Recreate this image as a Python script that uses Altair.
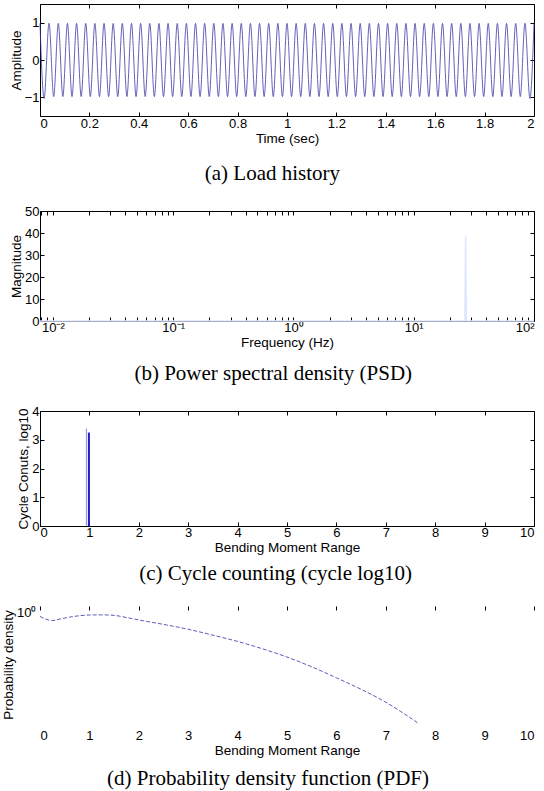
import altair as alt
import pandas as pd

# ---------------- (a) Load history: peak / trough times
peak_t = [0.0000, 0.0370, 0.0741, 0.1111, 0.1481, 0.1852, 0.2222, 0.2593, 0.2963, 0.3333,
          0.3704, 0.4074, 0.4444, 0.4815, 0.5185, 0.5556, 0.5926, 0.6296, 0.6667, 0.7037,
          0.7407, 0.7778, 0.8148, 0.8519, 0.8889, 0.9259, 0.9630, 1.0000, 1.0370, 1.0741,
          1.1111, 1.1481, 1.1852, 1.2222, 1.2593, 1.2963, 1.3333, 1.3704, 1.4074, 1.4444,
          1.4815, 1.5185, 1.5556, 1.5926, 1.6296, 1.6667, 1.7037, 1.7407, 1.7778, 1.8148,
          1.8519, 1.8889, 1.9259, 1.9630, 2.0000]
trough_t = [0.0185, 0.0556, 0.0926, 0.1296, 0.1667, 0.2037, 0.2407, 0.2778, 0.3148, 0.3519,
            0.3889, 0.4259, 0.4630, 0.5000, 0.5370, 0.5741, 0.6111, 0.6481, 0.6852, 0.7222,
            0.7593, 0.7963, 0.8333, 0.8704, 0.9074, 0.9444, 0.9815, 1.0185, 1.0556, 1.0926,
            1.1296, 1.1667, 1.2037, 1.2407, 1.2778, 1.3148, 1.3519, 1.3889, 1.4259, 1.4630,
            1.5000, 1.5370, 1.5741, 1.6111, 1.6481, 1.6852, 1.7222, 1.7593, 1.7963, 1.8333,
            1.8704, 1.9074, 1.9444, 1.9815]
PEAK_AMP = 0.98
TROUGH_AMP = -0.98
time_ticks = [0, 0.2, 0.4, 0.6, 0.8, 1.0, 1.2, 1.4, 1.6, 1.8, 2.0]
amp_ticks = [-1, 0, 1]

# ---------------- (b) PSD
psd_freq = [0.0078125, 26.6, 27.0, 27.4, 100.0]
psd_mag = [0.0, 0.0, 38.5, 0.0, 0.0]
freq_ticks = [0.008, 0.009,
              0.01, 0.02, 0.03, 0.04, 0.05, 0.06, 0.07, 0.08, 0.09,
              0.1, 0.2, 0.3, 0.4, 0.5, 0.6, 0.7, 0.8, 0.9,
              1, 2, 3, 4, 5, 6, 7, 8, 9,
              10, 20, 30, 40, 50, 60, 70, 80, 90, 100]
mag_ticks = [0, 10, 20, 30, 40, 50]

# ---------------- (c) Cycle counting
cc_range = [0.94, 0.99]
cc_log10 = [3.39, 3.25]
cc_color = ["#9a9ae6", "#1c1cc8"]
cc_width = [1.2, 2.0]
range_ticks = [0, 1, 2, 3, 4, 5, 6, 7, 8, 9, 10]
count_ticks = [0, 1, 2, 3, 4]

# ---------------- (d) PDF
pdf_x = [0, 0.1, 0.25, 0.4, 0.6, 0.8, 1.0, 1.25, 1.5, 1.75, 2.0, 2.5, 3.0, 3.5,
         4.0, 4.5, 5.0, 5.5, 6.0, 6.5, 7.0, 7.3, 7.65]
pdf_y = [0.845, 0.812, 0.789, 0.809, 0.835, 0.854, 0.864, 0.866, 0.859, 0.830, 0.798,
         0.742, 0.686, 0.623, 0.563, 0.500, 0.437, 0.373, 0.312, 0.259, 0.210, 0.181, 0.150]

FONT = "Liberation Sans"
SERIF = "Liberation Serif"
W = 494
INWARD = alt.ExprRef(expr="-4")


def ax(**kw):
    base = dict(labelFont=FONT, labelFontSize=13, labelColor="black",
                titleFont=FONT, titleFontSize=13.5, titleFontWeight="normal",
                titleColor="black", domainColor="black", domainWidth=1,
                tickColor="black", tickWidth=1, grid=False, tickSize=INWARD,
                labelPadding=5, titlePadding=1, labelOverlap=False)
    base.update(kw)
    return alt.Axis(**base)


def caption(text, offset):
    return alt.TitleParams(text=text, orient="bottom", font=SERIF, fontSize=21,
                           fontWeight="normal", color="black", anchor="middle",
                           frame="bounds", offset=offset)


# ---- panel a
a_df = pd.DataFrame({"t": peak_t + trough_t,
                     "amp": [PEAK_AMP] * len(peak_t) + [TROUGH_AMP] * len(trough_t)}
                    ).sort_values("t")
xs_a = alt.Scale(domain=[0, 2], nice=False, zero=False)
ys_a = alt.Scale(domain=[-1.5, 1.5], nice=False)
a_main = alt.Chart(a_df).mark_line(interpolate="natural", color="#3a3aa6",
                                   strokeWidth=0.8).encode(
    x=alt.X("t:Q", scale=xs_a, axis=ax(values=time_ticks, format="~g", title="Time (sec)")),
    y=alt.Y("amp:Q", scale=ys_a, axis=ax(values=amp_ticks, format="~g", title="Amplitude")),
)
a_mirror = alt.Chart(a_df).mark_line(opacity=0).encode(
    x=alt.X("t:Q", scale=xs_a, axis=ax(values=time_ticks, orient="top", labels=False, title=None)),
    y=alt.Y("amp:Q", scale=ys_a, axis=ax(values=amp_ticks, orient="right", labels=False, title=None)),
)
panel_a = alt.layer(a_main, a_mirror).resolve_axis(x="independent", y="independent").properties(
    width=W, height=112, title=caption("(a) Load history", 18))

# ---- panel b
b_df = pd.DataFrame({"f": psd_freq, "m": psd_mag})
xs_b = alt.Scale(type="log", domain=[0.0078125, 100], nice=False)
ys_b = alt.Scale(domain=[0, 50], nice=False)
dec_expr = ("datum.value == 0.01 ? '10⁻²' : datum.value == 0.1 ? '10⁻¹' : "
            "datum.value == 1 ? '10⁰' : datum.value == 10 ? '10¹' : "
            "datum.value == 100 ? '10²' : ''")
b_main = alt.Chart(b_df).mark_line(color="#dfe6ff", strokeWidth=1.5).encode(
    x=alt.X("f:Q", scale=xs_b, axis=ax(values=freq_ticks, labelExpr=dec_expr,
                                       title="Frequency (Hz)", labelPadding=4)),
    y=alt.Y("m:Q", scale=ys_b, axis=ax(values=mag_ticks, title="Magnitude")),
)
b_mirror = alt.Chart(b_df).mark_line(opacity=0).encode(
    x=alt.X("f:Q", scale=xs_b, axis=ax(values=freq_ticks, orient="top", labels=False, title=None)),
    y=alt.Y("m:Q", scale=ys_b, axis=ax(values=mag_ticks, orient="right", labels=False, title=None)),
)
panel_b = alt.layer(b_main, b_mirror).resolve_axis(x="independent", y="independent").properties(
    width=W, height=110, title=caption("(b) Power spectral density (PSD)", 14))

# ---- panel c
c_df = pd.DataFrame({"r": cc_range, "c": cc_log10, "col": cc_color, "w": cc_width})
xs_c = alt.Scale(domain=[0, 10], nice=False)
ys_c = alt.Scale(domain=[0, 4], nice=False)
c_main = alt.Chart(c_df).mark_rule().encode(
    x=alt.X("r:Q", scale=xs_c, axis=ax(values=range_ticks, title="Bending Moment Range",
                                       labelPadding=4)),
    y=alt.Y("c:Q", scale=ys_c, axis=ax(values=count_ticks, title="Cycle Conuts, log10")),
    y2=alt.datum(0),
    color=alt.Color("col:N", scale=None),
    strokeWidth=alt.StrokeWidth("w:Q", scale=None),
)
c_mirror = alt.Chart(c_df).mark_point(opacity=0).encode(
    x=alt.X("r:Q", scale=xs_c, axis=ax(values=range_ticks, orient="top", labels=False, title=None)),
    y=alt.Y("c:Q", scale=ys_c, axis=ax(values=count_ticks, orient="right", labels=False, title=None)),
)
panel_c = alt.layer(c_main, c_mirror).resolve_axis(x="independent", y="independent").properties(
    width=W, height=115, title=caption("(c) Cycle counting (cycle log10)", 9))

# ---- panel d
d_df = pd.DataFrame({"x": pdf_x, "p": pdf_y})
xs_d = alt.Scale(domain=[0, 10], nice=False)
ys_d = alt.Scale(type="log", domain=[0.15, 1], nice=False)
d_main = alt.Chart(d_df).mark_line(color="#4a4ab0", strokeWidth=0.9, strokeDash=[4, 2],
                                   interpolate="monotone").encode(
    x=alt.X("x:Q", scale=xs_d, axis=ax(values=range_ticks, title="Bending Moment Range",
                                       domain=False, ticks=False, labelPadding=6)),
    y=alt.Y("p:Q", scale=ys_d, axis=ax(values=[1], labelExpr="'10⁰'", title="Probability density",
                                       domain=False, ticks=False, labelPadding=4,
                                       labelBaseline="top")),
)
d_mirror = alt.Chart(d_df).mark_point(opacity=0).encode(
    x=alt.X("x:Q", scale=xs_d, axis=ax(values=range_ticks, orient="top", labels=False,
                                       title=None, domain=False)),
)
panel_d = alt.layer(d_main, d_mirror).resolve_axis(x="independent").properties(
    width=W, height=117, title=caption("(d) Probability density function (PDF)", 11))

chart = alt.vconcat(panel_a, panel_b, panel_c, panel_d, spacing=21).properties(
    padding={"left": 1, "top": 3, "right": 2, "bottom": 1},
    background="white",
).configure_view(stroke=None)

chart.save("out.html", embed_options={"renderer": "svg", "actions": False})
